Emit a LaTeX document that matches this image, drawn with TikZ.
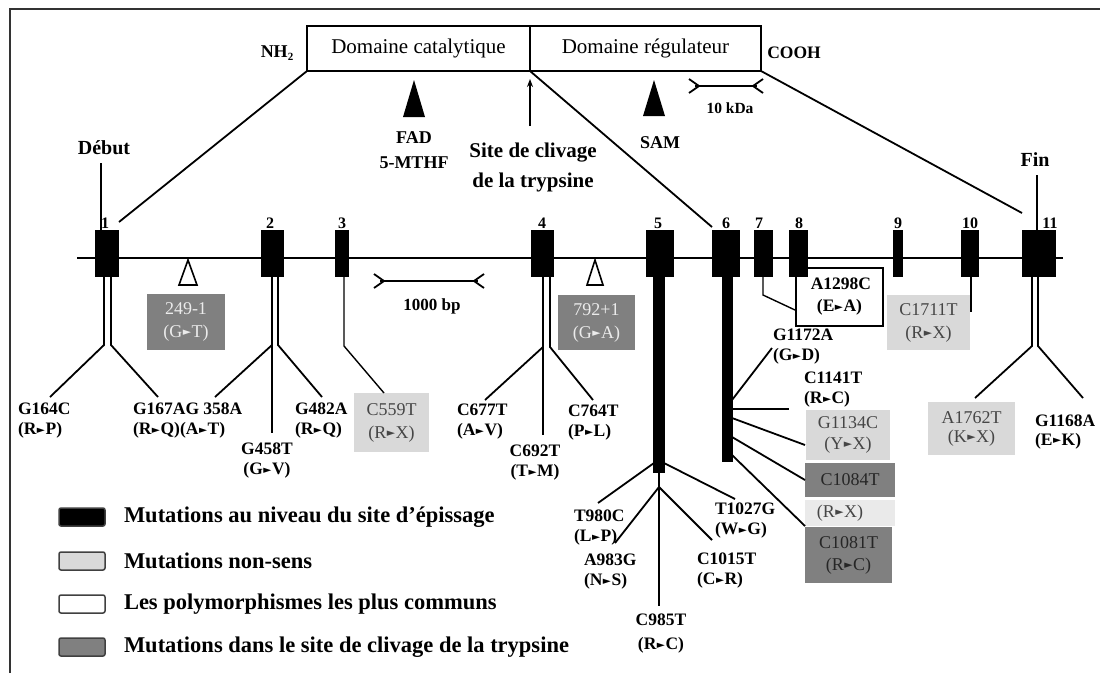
\documentclass[tikz,border=0pt]{standalone}
\usepackage{fontspec}
\setmainfont{Liberation Serif}
\newfontfamily\dejavu{DejaVu Sans}
\usetikzlibrary{arrows.meta}
\newcommand{\mut}{\kern0.03em\raisebox{0.1em}{\scalebox{0.6}{\dejavu ►}}\kern0.03em}
\definecolor{boxdark}{RGB}{128,128,128}
\definecolor{boxlight}{RGB}{217,217,217}
\definecolor{boxpale}{RGB}{234,234,234}
\definecolor{txtgray}{RGB}{70,70,70}
\tikzset{
  every node/.style={inner sep=0pt, outer sep=0pt},
  frame/.style={draw=black!80, line width=2pt},
  conn/.style={line width=1.8pt},
  thinl/.style={line width=1.4pt},
  gene/.style={line width=2.6pt},
  exon/.style={fill=black, minimum height=47pt},
  dombox/.style={draw, line width=1.6pt, font=\fontsize{21}{22}\selectfont},
  num/.style={font=\fontsize{16}{16}\selectfont\bfseries},
  lbl/.style={font=\fontsize{18}{25}\selectfont\bfseries, align=center},
  ml/.style={font=\fontsize{17.5}{20}\selectfont\bfseries, align=left, anchor=west},
  mc/.style={font=\fontsize{17.5}{20}\selectfont\bfseries, align=center},
  boxtxt/.style={font=\fontsize{18}{23}\selectfont, align=center},
  darkbox/.style={boxtxt, fill=boxdark, text=white!92!black},
  lightbox/.style={boxtxt, fill=boxlight, text=txtgray},
  legbox/.style={draw=black!75, line width=1.5pt, rounded corners=2pt, minimum width=46pt, minimum height=18pt},
  legtxt/.style={font=\fontsize{22.5}{24}\selectfont\bfseries, anchor=west},
  opentri/.style={draw, fill=white, line width=1.6pt},
}
\begin{document}
\begin{tikzpicture}[x=1pt,y=-1pt]
\useasboundingbox (0,0) rectangle (1100,673);
% frame
\draw[frame] (10,673) -- (10,9) -- (1100,9);

% protein domains
\node[dombox, minimum width=223pt, minimum height=45pt] (cat) at (418.5,48.5) {Domaine catalytique};
\node[dombox, minimum width=231pt, minimum height=45pt] (reg) at (645.5,48.5) {Domaine régulateur};
\node[font=\fontsize{18}{18}\selectfont\bfseries] (nh2) at (277,53) {NH\raisebox{-0.35ex}{\fontsize{11}{11}\selectfont 2}};
\node[font=\fontsize{17.5}{17.5}\selectfont\bfseries] (cooh) at (794,53) {COOH};

% FAD and SAM sites
\fill (414,80) -- (425,117) -- (403,117) -- cycle;
\fill (654,80) -- (665,116) -- (643,116) -- cycle;
\node[lbl] (fad) at (414,150.5) {FAD\\5-MTHF};
\node[lbl] (sam) at (660,143) {SAM};
\node[font=\fontsize{21}{30}\selectfont\bfseries, align=center] (site) at (533,167) {Site de clivage\\de la trypsine};
\coordinate (arrS) at (530,126);
\coordinate (arrE) at (530,79);
\draw[line width=1.3pt, -{Stealth[length=8pt,width=6pt]}] (arrS) -- (arrE);

% 10 kDa scale
\draw[conn] (695,86) -- (757,86);
\draw[conn] (689,79) .. controls (694,82) .. (699,86) .. controls (694,90) .. (689,93);
\draw[conn] (763,79) .. controls (758,82) .. (753,86) .. controls (758,90) .. (763,93);
\node[font=\fontsize{15.5}{15.5}\selectfont\bfseries] (kda) at (730,108) {10 kDa};

% start / end labels
\node[font=\fontsize{20}{20}\selectfont\bfseries] (debut) at (104,148) {Début};
\node[font=\fontsize{20}{20}\selectfont\bfseries] (fin) at (1035,160) {Fin};

% gene line
\coordinate (geneL) at (77,258);
\coordinate (geneR) at (1063,258);
\draw[gene] (geneL) -- (geneR);

% open triangles
\draw[opentri] (188,260) -- (197,285) -- (179,285) -- cycle;
\draw[opentri] (595,260) -- (603,285) -- (587,285) -- cycle;

% exons
\node[exon, minimum width=24pt] (ex1) at (107,253.5) {};
\node[exon, minimum width=23pt] (ex2) at (272.5,253.5) {};
\node[exon, minimum width=14pt] (ex3) at (342,253.5) {};
\node[exon, minimum width=23pt] (ex4) at (542.5,253.5) {};
\node[exon, minimum width=28pt] (ex5) at (660,253.5) {};
\node[exon, minimum width=28pt] (ex6) at (726,253.5) {};
\node[exon, minimum width=19pt] (ex7) at (763.5,253.5) {};
\node[draw, line width=1.6pt, fill=white, minimum width=87pt, minimum height=58pt, font=\fontsize{17.5}{22}\selectfont\bfseries, align=center] (a1298) at (839.5,297) {\,A1298C\\(E\mut A)};
\node[exon, minimum width=19pt] (ex8) at (798.5,253.5) {};
\node[exon, minimum width=10pt] (ex9) at (898,253.5) {};
\node[exon, minimum width=18pt] (ex10) at (970,253.5) {};
\node[exon, minimum width=34pt] (ex11) at (1039,253.5) {};

% exon numbers
\node[num] (n1) at (105,223) {1};
\node[num] (n2) at (270,223) {2};
\node[num] (n3) at (342,223) {3};
\node[num] (n4) at (542,223) {4};
\node[num] (n5) at (658,223) {5};
\node[num] (n6) at (726,223) {6};
\node[num] (n7) at (759,223) {7};
\node[num] (n8) at (799,223) {8};
\node[num] (n9) at (898,223) {9};
\node[num] (n10) at (970,223) {10};
\node[num] (n11) at (1050,223) {11};

% start / end sticks
\coordinate (debutS) at (101,163);
\coordinate (finS) at (1037,175);
\draw[thinl] (debutS) -- (ex1.north -| debutS);
\draw[thinl] (finS) -- (ex11.north -| finS);

% domain projection lines
\draw[conn] (cat.south west) -- ([yshift=8pt]ex1.north east);
\draw[conn] (cat.south east) -- ([yshift=3pt]ex6.north west);
\draw[conn] (reg.south east) -- ([yshift=17pt]ex11.north west);

% 1000 bp scale
\draw[conn] (380,281) -- (478,281);
\draw[conn] (374,274) .. controls (379,277) .. (384,281) .. controls (379,285) .. (374,288);
\draw[conn] (484,274) .. controls (479,277) .. (474,281) .. controls (479,285) .. (484,288);
\node[font=\fontsize{17}{17}\selectfont\bfseries] (bp) at (432,306) {1000 bp};

% splice site boxes
\node[darkbox, minimum width=78pt, minimum height=56pt] (b249) at (186,322) {249-1\\(G\mut T)};
\node[darkbox, minimum width=77pt, minimum height=55pt] (b792) at (596.5,322.5) {792+1\\(G\mut A)};

% mutation labels
\node[ml] (g164) at (18,421) {G164C\\(R\mut P)};
\node[ml] (g167) at (133,421) {G167AG 358A\\(R\mut Q)(A\mut T)};
\node[mc] (g458) at (267,461) {G458T\\(G\mut V)};
\node[ml] (g482) at (295,421) {G482A\\(R\mut Q)};
\node[lightbox, minimum width=75pt, minimum height=59pt] (c559) at (391.5,422.5) {C559T\\(R\mut X)};
\node[ml] (c677) at (457,422) {C677T\\(A\mut V)};
\node[mc] (c692) at (535,463) {C692T\\(T\mut M)};
\node[ml] (c764) at (568,423) {C764T\\(P\mut L)};
\node[ml] (t980) at (574,528) {T980C\\(L\mut P)};
\node[ml] (a983) at (584,572) {A983G\\(N\mut S)};
\node[mc, font=\fontsize{17.5}{24}\selectfont\bfseries] (c985) at (661,634) {C985T\\(R\mut C)};
\node[ml] (c1015) at (697,571) {C1015T\\(C\mut R)};
\node[ml] (t1027) at (715,521) {T1027G\\(W\mut G)};
\node[ml] (g1172) at (773,347) {G1172A\\(G\mut D)};
\node[ml] (c1141) at (804,390) {C1141T\\(R\mut C)};
\node[lightbox, minimum width=84pt, minimum height=50pt, font=\fontsize{18}{21}\selectfont] (g1134) at (848,435) {G1134C\\(Y\mut X)};
\node[boxtxt, fill=boxdark, text=black!85, minimum width=90pt, minimum height=34pt] (c1084) at (850,480) {C1084T};
\node[boxtxt, fill=boxpale, text=txtgray, minimum width=90pt, minimum height=26pt] (rx) at (850,513) {(R\mut X)\hspace{20pt}};
\node[boxtxt, fill=boxdark, text=black!85, minimum width=87pt, minimum height=56pt, font=\fontsize{18}{22}\selectfont] (c1081) at (848.5,555) {C1081T\\(R\mut C)};
\node[lightbox, minimum width=83pt, minimum height=55pt] (c1711) at (928.5,322.5) {C1711T\\(R\mut X)};
\node[lightbox, minimum width=87pt, minimum height=53pt, font=\fontsize{18}{19}\selectfont] (a1762) at (971.5,428.5) {A1762T\\(K\mut X)};
\node[ml, font=\fontsize{17.5}{19}\selectfont\bfseries] (g1168) at (1035,432) {G1168A\\(E\mut K)};

% exon 1 branches
\coordinate (d1a) at (104,345);
\coordinate (d1b) at (111,345);
\coordinate (e164) at (50,397);
\coordinate (e167) at (158,397);
\draw[conn] (ex1.south -| d1a) -- (d1a) -- (e164);
\draw[conn] (ex1.south -| d1b) -- (d1b) -- (e167);

% exon 2 branches
\coordinate (d2a) at (272,345);
\coordinate (d2b) at (278,345);
\coordinate (e358) at (215,397);
\coordinate (e482) at (322,397);
\coordinate (e458) at (272,433);
\draw[conn] (ex2.south -| d2a) -- (d2a) -- (e358);
\draw[conn] (d2a) -- (e458);
\draw[conn] (ex2.south -| d2b) -- (d2b) -- (e482);

% exon 3 branch
\coordinate (d3) at (344,346);
\coordinate (e559) at (384,393);
\draw[thinl] (ex3.south -| d3) -- (d3) -- (e559);

% exon 4 branches
\coordinate (d4a) at (543,347);
\coordinate (d4b) at (550,347);
\coordinate (e677) at (485,400);
\coordinate (e764) at (593,400);
\coordinate (e692) at (543,435);
\draw[conn] (ex4.south -| d4a) -- (d4a) -- (e677);
\draw[conn] (d4a) -- (e692);
\draw[conn] (ex4.south -| d4b) -- (d4b) -- (e764);

% exon 5 bar and branches
\node[fill=black, minimum width=12pt, minimum height=196pt] (bar5) at (659,375) {};
\coordinate (b5l) at (654,463);
\coordinate (b5r) at (664,463);
\coordinate (b5j) at (659,487);
\coordinate (e980) at (598,503);
\coordinate (e1027) at (735,499);
\coordinate (e983) at (615,543);
\coordinate (e985) at (659,606);
\coordinate (e1015) at (712,540);
\draw[conn] (b5l) -- (e980);
\draw[conn] (b5r) -- (e1027);
\draw[thinl] (bar5.south) -- (b5j);
\draw[conn] (b5j) -- (e983);
\draw[thinl] (b5j) -- (e985);
\draw[conn] (b5j) -- (e1015);

% exon 6 bar and branches
\node[fill=black, minimum width=11pt, minimum height=185pt] (bar6) at (727.5,369.5) {};
\coordinate (b6a) at (732,400);
\coordinate (b6b) at (732,409);
\coordinate (b6c) at (732,418);
\coordinate (b6d) at (732,437);
\coordinate (b6e) at (732,455);
\coordinate (e1172) at (772,348);
\coordinate (e1141) at (789,409);
\coordinate (e1134) at (805,445);
\coordinate (e1084) at (805,480);
\coordinate (e1081) at (805,526);
\draw[conn] (b6a) -- (e1172);
\draw[conn] (b6b) -- (e1141);
\draw[conn] (b6c) -- (e1134);
\draw[conn] (b6d) -- (e1084);
\draw[conn] (b6e) -- (e1081);

% exon 7 branch
\coordinate (d7) at (763,295);
\coordinate (e1298) at (795,310);
\draw[thinl] (ex7.south -| d7) -- (d7) -- (e1298);

% exon 10 branch
\coordinate (e1711) at (971,312);
\draw[thinl] (ex10.south -| e1711) -- (e1711);

% exon 11 branches
\coordinate (d11a) at (1032,346);
\coordinate (d11b) at (1038,346);
\coordinate (e1762) at (975,398);
\coordinate (e1168) at (1083,398);
\draw[conn] (ex11.south -| d11a) -- (d11a) -- (e1762);
\draw[conn] (ex11.south -| d11b) -- (d11b) -- (e1168);

% legend
\node[legbox, fill=black] (leg1) at (82,517) {};
\node[legbox, fill=boxlight] (leg2) at (82,561) {};
\node[legbox, fill=white] (leg3) at (82,604) {};
\node[legbox, fill=boxdark] (leg4) at (82,647) {};
\node[legtxt] (lt1) at (124,517) {Mutations au niveau du site d’épissage};
\node[legtxt] (lt2) at (124,561) {Mutations non-sens};
\node[legtxt] (lt3) at (124,604) {Les polymorphismes les plus communs};
\node[legtxt] (lt4) at (124,647) {Mutations dans le site de clivage de la trypsine};
\end{tikzpicture}
\end{document}
